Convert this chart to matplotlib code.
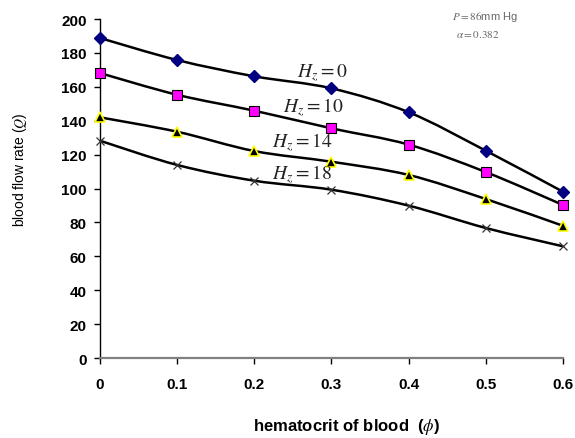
import numpy as np
import matplotlib
matplotlib.use('Agg')
import matplotlib.pyplot as plt
from matplotlib.path import Path
from matplotlib.patches import PathPatch

plt.rcParams['font.family'] = ['Liberation Sans', 'DejaVu Sans']
plt.rcParams['mathtext.fontset'] = 'stix'

# hematocrit values
phi = [0, 0.1, 0.2, 0.3, 0.4, 0.5, 0.6]

# blood flow rate for each Hz
q_hz0 = [188.8, 175.8, 166.2, 159.1, 145.0, 122.3, 98.1]
q_hz10 = [168.1, 155.3, 145.9, 135.5, 125.9, 109.7, 90.3]
q_hz14 = [142.0, 133.5, 122.1, 115.8, 108.0, 93.8, 78.0]
q_hz18 = [128.2, 113.9, 104.6, 99.3, 89.9, 76.7, 65.9]

labels = ['$H_z = 0$', '$H_z = 10$', '$H_z = 14$', '$H_z = 18$']
label_pos = [(0.288, 168.5), (0.276, 148), (0.262, 127.5), (0.262, 108.5)]


def smooth_path(x, y):
    # excel style smoothed line (bezier through the points)
    pts = np.column_stack([x, y])
    ext = np.vstack([pts[0], pts, pts[-1]])
    verts = [pts[0]]
    codes = [Path.MOVETO]
    for i in range(len(pts) - 1):
        p0, p1, p2, p3 = ext[i], ext[i + 1], ext[i + 2], ext[i + 3]
        c1 = p1 + (p2 - p0) / 6
        c2 = p2 - (p3 - p1) / 6
        verts += [c1, c2, p2]
        codes += [Path.CURVE4] * 3
    return Path(verts, codes)


fig = plt.figure(figsize=(5.75, 4.39), dpi=100)
ax = fig.add_axes([0.1739, 0.1822, 0.8052, 0.7722])

series = [
    (q_hz0, dict(marker='D', markersize=6, markerfacecolor='#000080', markeredgecolor='#000080')),
    (q_hz10, dict(marker='s', markersize=7.5, markerfacecolor='#FF00FF', markeredgecolor='black', markeredgewidth=0.8)),
    (q_hz14, dict(marker='^', markersize=7.5, markerfacecolor='black', markeredgecolor='#FFFF00', markeredgewidth=1.2)),
    (q_hz18, dict(marker='x', markersize=6, markeredgecolor='#333333', markeredgewidth=0.9)),
]

for q, style in series:
    ax.add_patch(PathPatch(smooth_path(phi, q), facecolor='none', edgecolor='black', lw=1.8, zorder=2))
    ax.plot(phi, q, linestyle='none', zorder=3, clip_on=False, **style)

for lab, (lx, ly) in zip(labels, label_pos):
    ax.text(lx, ly, lab, fontsize=14, ha='center', va='center', color='#222222')

fig.text(0.786, 0.961, '$P = 86$mm Hg', fontsize=8, color='#666666', ha='left', va='center')
fig.text(0.793, 0.922, r'$\alpha = 0.382$', fontsize=8, color='#666666', ha='left', va='center')

ax.set_xlim(0, 0.6)
ax.set_ylim(0, 200)
ax.set_xticks(phi)
ax.set_xticklabels(['0', '0.1', '0.2', '0.3', '0.4', '0.5', '0.6'])
ax.set_yticks(range(0, 201, 20))

for side in ['top', 'right']:
    ax.spines[side].set_visible(False)
ax.spines['left'].set_color('black')
ax.spines['left'].set_linewidth(1.0)
ax.spines['bottom'].set_color('#808080')
ax.spines['bottom'].set_linewidth(1.6)

ax.tick_params(axis='both', direction='out', length=4.5, width=1, labelsize=11)
ax.tick_params(axis='y', pad=5)
ax.tick_params(axis='x', pad=9.5)
for t in ax.get_xticklabels() + ax.get_yticklabels():
    t.set_fontweight('bold')

ax.set_xlabel('hematocrit of blood  ($\\phi$)', fontsize=12, fontweight='bold')
ax.xaxis.set_label_coords(0.533, -0.172)
ax.set_ylabel('blood flow rate ($Q$)', fontsize=10)
ax.yaxis.set_label_coords(-0.153, 0.5575)

fig.savefig('out.png', dpi=100)
